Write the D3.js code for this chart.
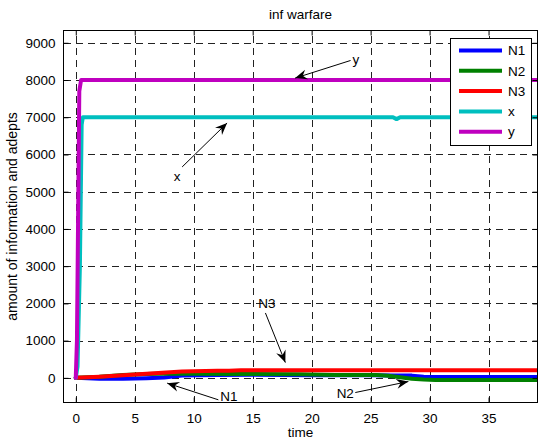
<!DOCTYPE html>
<html>
<head>
<meta charset="utf-8">
<script src="https://cdn.jsdelivr.net/npm/d3@7"></script>
<style>
  html, body { margin: 0; padding: 0; background: #fff; }
  svg { display: block; font-family: "Liberation Sans", Arial, Helvetica, sans-serif; }
</style>
</head>
<body>
<svg id="chart" width="538" height="439"></svg>
<script>
// Time samples and series (amount of information and adepts over time)
const seriesNames = ["N1", "N2", "N3", "x", "y"];
const seriesColors = ["#0000ff", "#008000", "#ff0000", "#00bfbf", "#bf00bf"];

const n1Time = [0, 2, 4, 6, 7.5, 9, 12, 15, 20, 25, 27, 28.5, 29.5, 30, 39.2];
const n1Vals = [0, -25, -25, -10, 10, 60, 75, 85, 70, 70, 65, 60, 30, 25, 25];

const n2Time = [0, 2, 4, 6, 8, 10, 13, 19, 22, 25.5, 26.5, 27.5, 28.5, 29.5, 30.5, 39.2];
const n2Vals = [0, 30, 80, 105, 115, 110, 105, 100, 80, 75, 55, 15, -25, -45, -55, -55];

const n3Time = [0, 2, 4, 6, 8, 9, 10, 12, 13, 14, 20, 39.2];
const n3Vals = [0, 30, 70, 110, 150, 170, 180, 188, 192, 205, 206, 206];

const xTime = [0, 0.15, 0.35, 0.5, 0.6, 26.9, 27.2, 27.5, 39.2];
const xVals = [0, 300, 3000, 6800, 7000, 7000, 6950, 7000, 7000];

const yTime = [0, 0.1, 0.3, 0.45, 39.2];
const yVals = [0, 1000, 7700, 8000, 8000];

const xTicks = [0, 5, 10, 15, 20, 25, 30, 35];
const yTicks = [0, 1000, 2000, 3000, 4000, 5000, 6000, 7000, 8000, 9000];

// Arrow annotations: label, text anchor point, arrow tail, arrow tip (data units)
const noteLabels = ["y", "x", "N3", "N1", "N2"];
const noteText = [[23.75, 8550], [8.6, 5415], [16.2, 2010], [12.98, -501], [22.85, -402]];
const noteTail = [[23.3, 8525], [9.02, 5665], [16.08, 1743], [12.09, -590], [23.7, -394]];
const noteTip = [[18.6, 8051], [12.83, 6845], [17.77, 410], [7.75, -142], [28.2, -99]];

const series = [
  [n1Time, n1Vals], [n2Time, n2Vals], [n3Time, n3Vals], [xTime, xVals], [yTime, yVals]
];

const svg = d3.select("#chart");
const plotL = 63.5, plotR = 537.5, plotT = 30.5, plotB = 402.5;
const fontSize = 13.5;

const x = d3.scaleLinear().domain([-1.04, 39.15]).range([plotL, plotR]);
const y = d3.scaleLinear().domain([-662, 9330]).range([plotB, plotT]);

// Clip region for the data lines
svg.append("clipPath").attr("id", "plotClip")
  .append("rect").attr("x", plotL).attr("y", plotT)
  .attr("width", plotR - plotL).attr("height", plotB - plotT);

// Dashed grid
const grid = svg.append("g").attr("stroke", "#222").attr("stroke-width", 1)
  .attr("stroke-dasharray", "7,5").attr("shape-rendering", "crispEdges");
grid.selectAll("line.v").data(xTicks).join("line").attr("class", "v")
  .attr("x1", d => Math.round(x(d)) + 0.5).attr("x2", d => Math.round(x(d)) + 0.5)
  .attr("y1", plotB).attr("y2", plotT);
grid.selectAll("line.h").data(yTicks).join("line").attr("class", "h")
  .attr("y1", d => Math.round(y(d)) + 0.5).attr("y2", d => Math.round(y(d)) + 0.5)
  .attr("x1", plotL).attr("x2", plotR);

// Series lines
const line = d3.line().x(d => x(d[0])).y(d => y(d[1]));
svg.append("g").attr("clip-path", "url(#plotClip)")
  .selectAll("path").data(series).join("path")
  .attr("d", s => line(s[0].map((t, i) => [t, s[1][i]])))
  .attr("fill", "none")
  .attr("stroke", (s, i) => seriesColors[i])
  .attr("stroke-width", 4)
  .attr("stroke-linejoin", "round")
  .attr("stroke-linecap", "round");

// Axes: ticks pointing inward on all four sides, box frame
const axisStyle = g => {
  g.select(".domain").remove();
  g.selectAll(".tick line").attr("stroke", "#000");
  g.selectAll(".tick text").attr("fill", "#000").style("font-size", fontSize + "px")
    .style("font-family", "'Liberation Sans', Arial, Helvetica, sans-serif");
};
svg.append("g").attr("transform", `translate(0,${plotB})`)
  .call(d3.axisBottom(x).tickValues(xTicks).tickSize(-5).tickPadding(11).tickFormat(d3.format("d")))
  .call(axisStyle);
svg.append("g").attr("transform", `translate(${plotL},0)`)
  .call(d3.axisLeft(y).tickValues(yTicks).tickSize(-5).tickPadding(8).tickFormat(d3.format("d")))
  .call(axisStyle);
svg.append("g").attr("transform", `translate(0,${plotT})`)
  .call(d3.axisTop(x).tickValues(xTicks).tickSize(-5).tickFormat(""))
  .call(axisStyle);
svg.append("g").attr("transform", `translate(${plotR},0)`)
  .call(d3.axisRight(y).tickValues(yTicks).tickSize(-5).tickFormat(""))
  .call(axisStyle);
svg.append("rect").attr("x", plotL).attr("y", plotT)
  .attr("width", plotR - plotL).attr("height", plotB - plotT)
  .attr("fill", "none").attr("stroke", "#000").attr("stroke-width", 1);

// Title and axis labels
svg.append("text").attr("x", (plotL + plotR) / 2).attr("y", 19)
  .attr("text-anchor", "middle").style("font-size", fontSize + "px").text("inf warfare");
svg.append("text").attr("x", (plotL + plotR) / 2).attr("y", 437)
  .attr("text-anchor", "middle").style("font-size", fontSize + "px").text("time");
svg.append("text")
  .attr("transform", `translate(17,${(plotT + plotB) / 2}) rotate(-90)`)
  .attr("text-anchor", "middle").style("font-size", "14px")
  .text("amount of information and adepts");

// Arrow annotations
const headPath = (tx, ty, sx, sy) => {
  const a = Math.atan2(ty - sy, tx - sx);
  const L = 12, W = 5, notch = 8;
  const pt = (dx, dy) => [tx + dx * Math.cos(a) - dy * Math.sin(a), ty + dx * Math.sin(a) + dy * Math.cos(a)];
  return "M" + [pt(0, 0), pt(-L, W), pt(-notch, 0), pt(-L, -W)].map(p => p.join(",")).join("L") + "Z";
};
const notes = svg.append("g");
noteLabels.forEach((lab, i) => {
  const sx = x(noteTail[i][0]), sy = y(noteTail[i][1]);
  const tx = x(noteTip[i][0]), ty = y(noteTip[i][1]);
  notes.append("line").attr("x1", sx).attr("y1", sy).attr("x2", tx).attr("y2", ty)
    .attr("stroke", "#000").attr("stroke-width", 1);
  notes.append("path").attr("d", headPath(tx, ty, sx, sy)).attr("fill", "#000");
  notes.append("text").attr("x", x(noteText[i][0])).attr("y", y(noteText[i][1]))
    .attr("dy", "0.35em").attr("text-anchor", "middle")
    .style("font-size", fontSize + "px").text(lab);
});

// Legend
const lg = svg.append("g");
lg.append("rect").attr("x", 450.5).attr("y", 38.5).attr("width", 81).attr("height", 107)
  .attr("fill", "#fff").attr("stroke", "#000").attr("stroke-width", 1);
seriesNames.forEach((name, i) => {
  const ly = 50.5 + i * 20.3;
  lg.append("line").attr("x1", 459).attr("x2", 502).attr("y1", ly).attr("y2", ly)
    .attr("stroke", seriesColors[i]).attr("stroke-width", 4);
  lg.append("text").attr("x", 508).attr("y", ly).attr("dy", "0.35em")
    .style("font-size", fontSize + "px").text(name);
});
</script>
</body>
</html>
